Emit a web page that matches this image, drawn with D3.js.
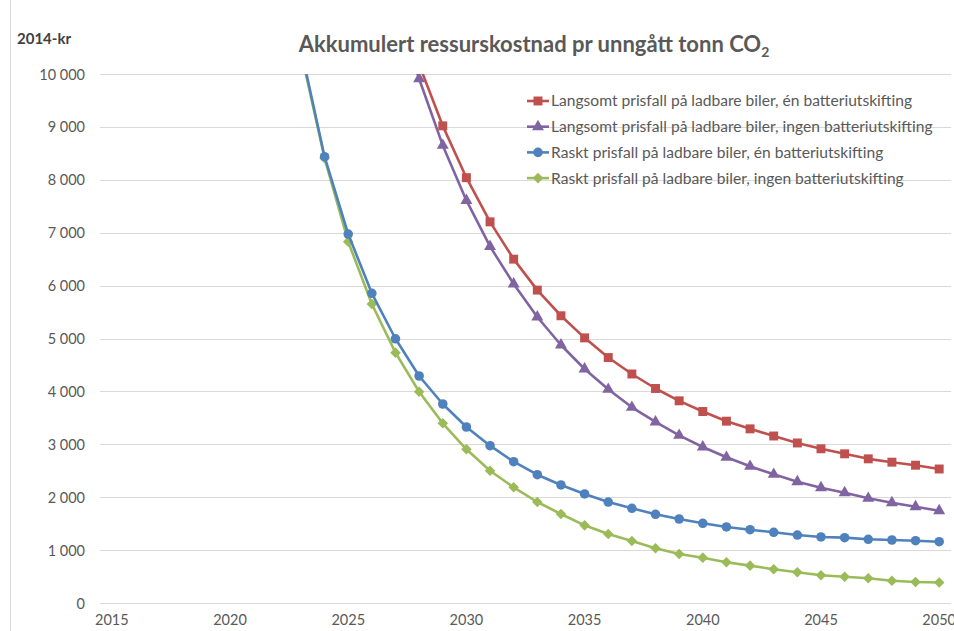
<!DOCTYPE html>
<html>
<head>
<meta charset="utf-8">
<script src="https://cdn.jsdelivr.net/npm/d3@7"></script>
<style>
  html, body { margin: 0; padding: 0; background: #fff; }
  svg { display: block; font-family: Lato, "Open Sans", sans-serif; }
</style>
</head>
<body>
<svg id="chart" width="954" height="631"></svg>
<script>
// Years on the category axis and the labelled ticks
const categories = d3.range(2015, 2051);
const tickYears = [2015, 2020, 2025, 2030, 2035, 2040, 2045, 2050];
const yTicks = [0, 1000, 2000, 3000, 4000, 5000, 6000, 7000, 8000, 9000, 10000];

// Accumulated cost per avoided tonne CO2 (2014-kr), by year
const slowOneYears = d3.range(2028, 2051);
const slowOne = [10180, 9020, 8040, 7205, 6500, 5915, 5430, 5012, 4640, 4329, 4055, 3822,
  3620, 3437, 3292, 3157, 3025, 2915, 2820, 2725, 2662, 2605, 2533];

const slowNoneYears = d3.range(2027, 2051);
const slowNone = [11200, 9910, 8650, 7610, 6740, 6030, 5406, 4877, 4423, 4040, 3699, 3422,
  3170, 2949, 2754, 2584, 2433, 2293, 2180, 2085, 1979, 1896, 1820, 1745];

const fastOneYears = d3.range(2023, 2051);
const fastOne = [10480, 8437, 6975, 5854, 4995, 4291, 3762, 3327, 2974, 2671, 2425, 2231,
  2061, 1909, 1790, 1677, 1588, 1506, 1437, 1386, 1336, 1285, 1248, 1235, 1204, 1191, 1178, 1159];

const fastNoneYears = d3.range(2023, 2051);
const fastNone = [10420, 8406, 6830, 5652, 4732, 3994, 3397, 2905, 2501, 2187, 1909, 1682,
  1468, 1304, 1172, 1034, 926, 857, 769, 706, 637, 580, 524, 497, 467, 422, 397, 388];

const seriesNames = [
  "Langsomt prisfall på ladbare biler, én batteriutskifting",
  "Langsomt prisfall på ladbare biler, ingen batteriutskifting",
  "Raskt prisfall på ladbare biler, én batteriutskifting",
  "Raskt prisfall på ladbare biler, ingen batteriutskifting"
];

// square turned 45 degrees
const symbolRhomb = {
  draw(ctx, size) {
    const r = Math.sqrt(size / 2);
    ctx.moveTo(0, -r); ctx.lineTo(r, 0); ctx.lineTo(0, r); ctx.lineTo(-r, 0); ctx.closePath();
  }
};

const series = [
  { name: seriesNames[0], years: slowOneYears, values: slowOne, color: "#C0504D", symbol: d3.symbolSquare, size: 80 },
  { name: seriesNames[1], years: slowNoneYears, values: slowNone, color: "#8064A2", symbol: d3.symbolTriangle, size: 62 },
  { name: seriesNames[2], years: fastOneYears, values: fastOne, color: "#4F81BD", symbol: d3.symbolCircle, size: 72 },
  { name: seriesNames[3], years: fastNoneYears, values: fastNone, color: "#9BBB59", symbol: symbolRhomb, size: 56 }
];

const svg = d3.select("#chart");
const W = 954, H = 631;
const plot = { left: 100, right: 951, top: 74, bottom: 603 };

const x = d3.scaleBand().domain(categories).range([plot.left, plot.right]);
const xc = yr => x(yr) + x.bandwidth() / 2;
const y = d3.scaleLinear().domain([0, 10000]).range([plot.bottom, plot.top]);

const textColor = "#595959";
const fmt = v => d3.format(",")(v).replace(/,/g, " ");

// outer frame edge on the left
svg.append("line")
  .attr("x1", 10.5).attr("x2", 10.5).attr("y1", 0).attr("y2", H)
  .attr("stroke", "#D9D9D9").attr("stroke-width", 1);

// horizontal gridlines
svg.append("g")
  .selectAll("line")
  .data(yTicks)
  .join("line")
  .attr("x1", plot.left).attr("x2", plot.right)
  .attr("y1", d => Math.round(y(d)) + 0.5).attr("y2", d => Math.round(y(d)) + 0.5)
  .attr("stroke", "#D9D9D9").attr("stroke-width", 1);

// y axis labels
const yAxis = d3.axisLeft(y).tickValues(yTicks).tickFormat(fmt).tickSize(0).tickPadding(0);
const gy = svg.append("g").attr("transform", `translate(85,0)`).call(yAxis);
gy.select(".domain").remove();
gy.selectAll("text").attr("fill", textColor).attr("font-size", 14.5)
  .attr("font-family", "Lato, sans-serif").attr("dy", "0.35em");

// x axis labels
const xAxis = d3.axisBottom(x).tickValues(tickYears).tickSize(0).tickPadding(0);
const gx = svg.append("g").attr("transform", `translate(0,${plot.bottom + 12})`).call(xAxis);
gx.select(".domain").remove();
gx.selectAll("text").attr("fill", textColor).attr("font-size", 14.5)
  .attr("font-family", "Lato, sans-serif").attr("dy", "0.71em");

// unit label
svg.append("text")
  .attr("x", 17).attr("y", 44)
  .attr("font-size", 15).attr("font-weight", "bold").attr("fill", "#404040")
  .text("2014-kr");

// title
const title = svg.append("text")
  .attr("x", 534).attr("y", 52)
  .attr("text-anchor", "middle")
  .attr("font-size", 22).attr("font-weight", "bold").attr("fill", textColor);
title.append("tspan").text("Akkumulert ressurskostnad pr unngått tonn CO");
title.append("tspan").attr("font-size", 14).attr("dy", 5).text("2");

// clip to the plot area
svg.append("defs").append("clipPath").attr("id", "plotClip")
  .append("rect")
  .attr("x", plot.left).attr("y", plot.top)
  .attr("width", plot.right - plot.left).attr("height", plot.bottom - plot.top);

const plotG = svg.append("g").attr("clip-path", "url(#plotClip)");

const line = d3.line().x(d => xc(d[0])).y(d => y(d[1]));

// draw back to front so the first series is on top
series.slice().reverse().forEach(s => {
  const pts = s.years.map((yr, i) => [yr, s.values[i]]);
  const g = plotG.append("g");
  g.append("path")
    .datum(pts)
    .attr("d", line)
    .attr("fill", "none")
    .attr("stroke", s.color)
    .attr("stroke-width", 2.6)
    .attr("stroke-linejoin", "round");
  g.selectAll("path.marker")
    .data(pts.filter(p => p[1] <= 10000))
    .join("path")
    .attr("class", "marker")
    .attr("transform", p => `translate(${xc(p[0])},${y(p[1])})`)
    .attr("d", d3.symbol().type(s.symbol).size(s.size))
    .attr("fill", s.color);
});

// legend
const legend = svg.append("g").attr("transform", "translate(527,101)");
series.forEach((s, i) => {
  const row = legend.append("g").attr("transform", `translate(0,${i * 25.7})`);
  row.append("line").attr("x1", 0).attr("x2", 22).attr("y1", 0).attr("y2", 0)
    .attr("stroke", s.color).attr("stroke-width", 2.6);
  row.append("path")
    .attr("transform", "translate(11,0)")
    .attr("d", d3.symbol().type(s.symbol).size(s.size))
    .attr("fill", s.color);
  row.append("text")
    .attr("x", 24).attr("y", 0).attr("dy", "0.35em")
    .attr("font-size", 15.6).attr("fill", textColor)
    .text(s.name);
});
</script>
</body>
</html>
